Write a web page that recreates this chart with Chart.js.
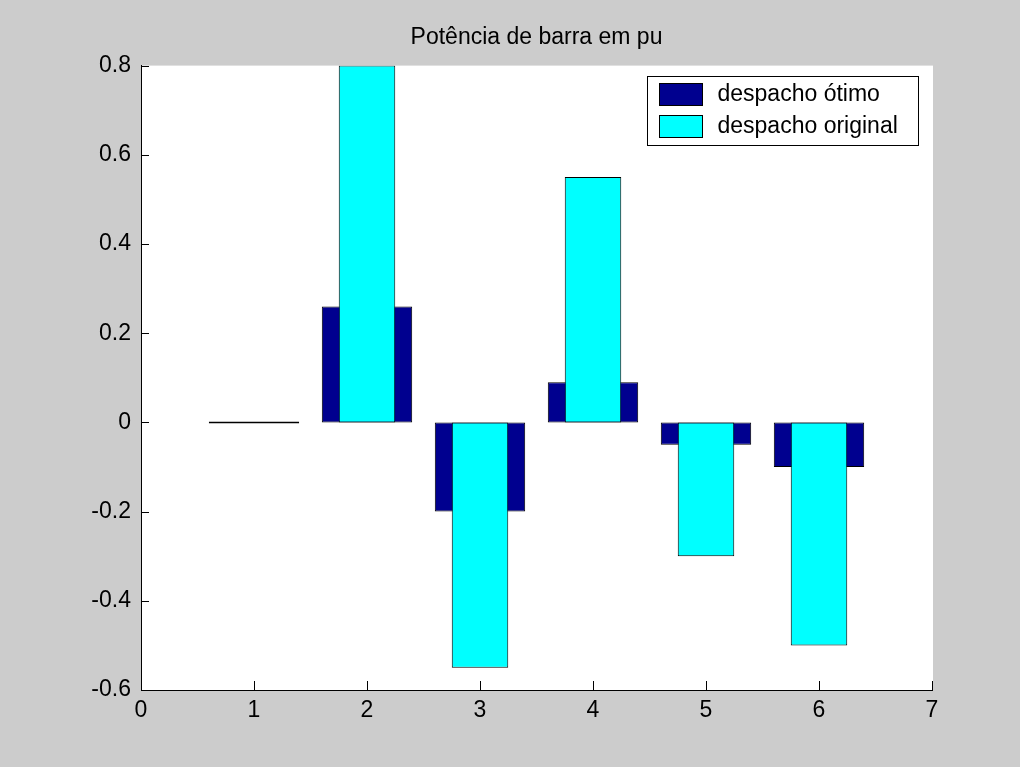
<!DOCTYPE html>
<html>
<head>
<meta charset="utf-8">
<script src="https://cdn.jsdelivr.net/npm/chart.js@4"></script>
<style>
  html, body { margin: 0; padding: 0; background: #cccccc; }
</style>
</head>
<body>
<canvas id="chart" width="1020" height="767"></canvas>
<script>
const categories = [1, 2, 3, 4, 5, 6];
const despachoOtimo = [0, 0.26, -0.2, 0.09, -0.05, -0.1];
const despachoOriginal = [0, 0.8, -0.55, 0.55, -0.3, -0.5];
const xTicks = [0, 1, 2, 3, 4, 5, 6, 7];
const yTicks = [-0.6, -0.4, -0.2, 0, 0.2, 0.4, 0.6, 0.8];
const titleText = 'Potência de barra em pu';

const FONT = 'Liberation Sans, Arial, sans-serif';

// grey figure + white axes background
const background = {
  id: 'background',
  beforeDraw(chart) {
    const { ctx, chartArea: a } = chart;
    ctx.save();
    ctx.fillStyle = '#cccccc';
    ctx.fillRect(0, 0, chart.width, chart.height);
    ctx.fillStyle = '#ffffff';
    ctx.fillRect(a.left, a.top, a.right - a.left + 1, a.bottom - a.top);
    ctx.restore();
  }
};

// matlab style: title centred over the axes, ticks pointing inward, legend inside
const extras = {
  id: 'extras',
  afterDraw(chart) {
    const { ctx, chartArea: a, scales } = chart;
    ctx.save();
    ctx.fillStyle = '#000';
    ctx.font = '23px ' + FONT;
    ctx.textAlign = 'center';
    ctx.textBaseline = 'middle';
    ctx.fillText(titleText, (a.left + a.right) / 2, 38);

    ctx.strokeStyle = '#000';
    ctx.lineWidth = 1;
    ctx.beginPath();
    yTicks.forEach(v => {
      const y = Math.round(scales.y.getPixelForValue(v)) + 0.5;
      ctx.moveTo(a.left, y);
      ctx.lineTo(a.left + 8, y);
    });
    xTicks.forEach(v => {
      const x = Math.round(scales.x.getPixelForValue(v)) + 0.5;
      ctx.moveTo(x, a.bottom);
      ctx.lineTo(x, a.bottom - 9);
    });
    ctx.stroke();

    // legend
    const bx = 647.5, by = 76.5, bw = 271, bh = 69;
    ctx.fillStyle = '#fff';
    ctx.fillRect(bx, by, bw, bh);
    ctx.strokeRect(bx, by, bw, bh);
    ctx.textAlign = 'left';
    chart.data.datasets.forEach((ds, i) => {
      const cy = by + 18 + i * 32;
      ctx.fillStyle = ds.backgroundColor;
      ctx.fillRect(bx + 12, cy - 11, 43, 22);
      ctx.strokeRect(bx + 12, cy - 11, 43, 22);
      ctx.fillStyle = '#000';
      ctx.fillText(ds.label, bx + 70, cy);
    });
    ctx.restore();
  }
};

new Chart(document.getElementById('chart'), {
  type: 'bar',
  data: {
    datasets: [
      {
        label: 'despacho ótimo',
        data: categories.map((c, i) => ({ x: c, y: despachoOtimo[i] })),
        backgroundColor: '#00008f',
        borderColor: '#000',
        borderWidth: 1,
        borderSkipped: false,
        barPercentage: 0.8,
        categoryPercentage: 1,
        minBarLength: 2,
        grouped: false,
        order: 1
      },
      {
        label: 'despacho original',
        data: categories.map((c, i) => ({ x: c, y: despachoOriginal[i] })),
        backgroundColor: '#00ffff',
        borderColor: '#000',
        borderWidth: 1,
        borderSkipped: false,
        barPercentage: 0.5,
        categoryPercentage: 1,
        grouped: false,
        order: 0
      }
    ]
  },
  options: {
    responsive: false,
    animation: false,
    devicePixelRatio: 1,
    layout: { padding: { left: 0, right: 88, top: 65.6, bottom: 0 } },
    plugins: {
      legend: { display: false },
      tooltip: { enabled: false },
      title: { display: false }
    },
    scales: {
      x: {
        type: 'linear',
        min: 0,
        max: 7,
        offset: false,
        grid: { display: false, drawTicks: false },
        border: { display: true, color: '#000', width: 1 },
        afterFit(scale) { scale.height = 77; },
        afterBuildTicks(scale) { scale.ticks = xTicks.map(v => ({ value: v })); },
        ticks: {
          color: '#000',
          padding: 7,
          font: { family: FONT, size: 23 },
          callback: v => String(v)
        }
      },
      y: {
        min: -0.6,
        max: 0.8,
        grid: { display: false, drawTicks: false },
        border: { display: true, color: '#000', width: 1 },
        afterFit(scale) { scale.width = 141; },
        afterBuildTicks(scale) { scale.ticks = yTicks.map(v => ({ value: v })); },
        ticks: {
          color: '#000',
          padding: 10,
          font: { family: FONT, size: 23 },
          callback: v => String(Number(v.toFixed(1)))
        }
      }
    }
  },
  plugins: [background, extras]
});
</script>
</body>
</html>
